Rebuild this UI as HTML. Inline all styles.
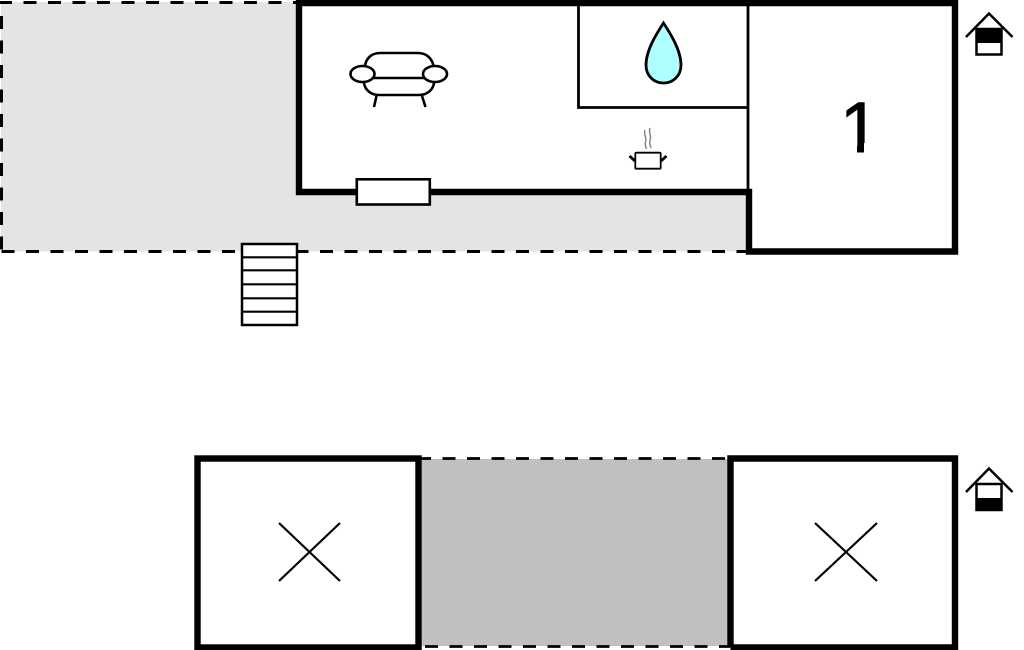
<!DOCTYPE html>
<html>
<head>
<meta charset="utf-8">
<style>
html,body{margin:0;padding:0;background:#fff;width:1024px;height:650px;overflow:hidden}
svg{display:block}
text{font-family:"Liberation Sans",sans-serif}
</style>
</head>
<body>
<svg width="1024" height="650" viewBox="0 0 1024 650" xmlns="http://www.w3.org/2000/svg">
<rect width="1024" height="650" fill="#fff"/>
<!-- terrace -->
<rect x="1" y="2" width="747" height="249.500" fill="#e4e4e4"/>
<rect x="299" y="3" width="450" height="189" fill="#fff"/>
<g fill="none" stroke="#000" stroke-width="3" stroke-dasharray="13 11.500">
<path d="M-1 2.500H296"/>
<path d="M1.500 16V251"/>
<path d="M0 251.500H747" stroke-dashoffset="-1.500"/>
</g>
<!-- thin partitions -->
<g fill="none" stroke="#000" stroke-width="2.800">
<path d="M578.500 4V107.500H748"/>
<path d="M748 4V190"/>
</g>
<!-- walls -->
<path d="M299 192V3H955V251.500H749V192Z" fill="none" stroke="#000" stroke-width="6.400"/>
<!-- window -->
<rect x="356.800" y="179.300" width="73" height="25.200" fill="#fff" stroke="#000" stroke-width="2.600"/>
<!-- stairs -->
<rect x="242" y="244" width="55" height="81" fill="#fff" stroke="#000" stroke-width="2.500"/>
<path d="M242 257.300H297M242 270.300H297M242 284.300H297M242 298.300H297M242 311.700H297" stroke="#000" stroke-width="2.200"/>
<!-- sofa -->
<g fill="none" stroke="#000" stroke-width="2.600">
<path d="M365 66C366 58 372 53 380 53H418C426 53 432 58 433.500 66"/>
<path d="M364 83C365 90 371 95 379 95H419C427 95 433 90 434 83"/>
<path d="M373 78H424"/>
<ellipse cx="362.500" cy="74" rx="12" ry="8"/>
<ellipse cx="435" cy="74" rx="12" ry="8"/>
<path d="M376.500 96L374 107M422 96L425.500 107"/>
</g>
<!-- drop -->
<path d="M663.500 23C657 33 646 50 646 65C646 76 654 83 663.500 83C673 83 681 76 681 65C681 50 670 33 663.500 23Z" fill="#aeffff" stroke="#000" stroke-width="2.800"/>
<!-- pot -->
<rect x="635.300" y="152.700" width="25.400" height="16" rx="1" fill="#fff" stroke="#000" stroke-width="1.800"/>
<path d="M629.500 156L635 161M666.500 156L661 161" stroke="#000" stroke-width="2.800" fill="none"/>
<path d="M645 130C643 134 647.500 138 645.500 142C644.500 145 646 147 646.500 149M650 128C648 132 652 136 650 140C649 143 650.500 146 651 148" stroke="#888" stroke-width="1.500" fill="none"/>
<!-- 1 -->
<text x="840" y="152" font-size="71" fill="#000" stroke="#000" stroke-width="1">1</text>
<rect x="832" y="143" width="25" height="11" fill="#fff"/>
<rect x="864" y="143" width="21" height="11" fill="#fff"/>
<!-- top house icon -->
<path d="M966 37L989 13.500L1012.500 37" fill="none" stroke="#000" stroke-width="2.500"/>
<rect x="976.500" y="29" width="25" height="25.500" fill="#fff" stroke="#000" stroke-width="2.500"/>
<rect x="976" y="28.500" width="26" height="14.500" fill="#000"/>
<!-- bottom section -->
<rect x="420" y="459" width="308" height="187" fill="#c0c0c0"/>
<g fill="none" stroke="#000" stroke-width="2.800" stroke-dasharray="13 11.500">
<path d="M418 458.500H730"/>
<path d="M419 646.500H730" stroke-dashoffset="-6"/>
</g>
<rect x="197.500" y="458.500" width="221" height="189" fill="none" stroke="#000" stroke-width="6.400"/>
<path d="M730.500 647.500V458.500H955V650M730.500 647.500H955" fill="none" stroke="#000" stroke-width="6.400"/>
<path d="M279 581L340 523M279 523L340 581M815 581L877 523M815 523L877 581" stroke="#000" stroke-width="2.200" fill="none"/>
<!-- bottom house icon -->
<path d="M966 492L989 468.500L1012.500 492" fill="none" stroke="#000" stroke-width="2.500"/>
<rect x="976.500" y="484" width="25" height="26" fill="#fff" stroke="#000" stroke-width="2.500"/>
<rect x="976" y="498" width="26" height="13" fill="#000"/>
</svg>
</body>
</html>
